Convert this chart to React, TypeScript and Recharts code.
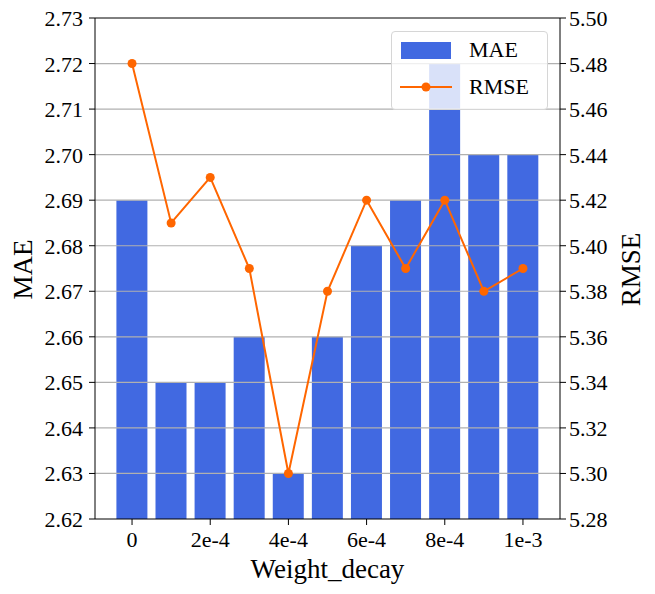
import React from 'react';
import {
  ComposedChart,
  Bar,
  Line,
  XAxis,
  YAxis,
  ReferenceLine,
} from 'recharts';

const decays = ['0', '1e-4', '2e-4', '3e-4', '4e-4', '5e-4', '6e-4', '7e-4', '8e-4', '9e-4', '1e-3'];
const maeValues = [2.69, 2.65, 2.65, 2.66, 2.63, 2.66, 2.68, 2.69, 2.72, 2.7, 2.7];
const rmseValues = [5.48, 5.41, 5.43, 5.39, 5.3, 5.38, 5.42, 5.39, 5.42, 5.38, 5.39];
const maeTicks = [2.62, 2.63, 2.64, 2.65, 2.66, 2.67, 2.68, 2.69, 2.7, 2.71, 2.72, 2.73];
const rmseTicks = [5.28, 5.3, 5.32, 5.34, 5.36, 5.38, 5.4, 5.42, 5.44, 5.46, 5.48, 5.5];

const BLUE = '#4169E1';
const ORANGE = '#FF6600';
const FONT = '"Liberation Serif", "Times New Roman", serif';

const data = decays.map((d, i) => ({ decay: d, MAE: maeValues[i], RMSE: rmseValues[i] }));

// custom ticks so the serif font is used
const XTick = (props: any) => (
  <text x={props.x} y={props.y + 19} textAnchor="middle" fontSize={22} fontFamily={FONT} fill="#000">
    {props.payload.value}
  </text>
);

const LeftTick = (props: any) => (
  <text x={props.x} y={props.y + 8} textAnchor="end" fontSize={22} fontFamily={FONT} fill="#000">
    {Number(props.payload.value).toFixed(2)}
  </text>
);

const RightTick = (props: any) => (
  <text x={props.x} y={props.y + 8} textAnchor="start" fontSize={22} fontFamily={FONT} fill="#000">
    {Number(props.payload.value).toFixed(2)}
  </text>
);

// axis titles drawn from the axis viewBox
const leftTitle = (props: any) => {
  const vb = props.viewBox;
  const x = vb.x + 32;
  const y = vb.y + vb.height / 2 + 1;
  return (
    <text x={x} y={y} transform={`rotate(-90 ${x} ${y})`} textAnchor="middle"
      fontSize={27} fontFamily={FONT} fill="#000">MAE</text>
  );
};

const rightTitle = (props: any) => {
  const vb = props.viewBox;
  const x = vb.x + 80;
  const y = vb.y + vb.height / 2 + 1;
  return (
    <text x={x} y={y} transform={`rotate(-90 ${x} ${y})`} textAnchor="middle"
      fontSize={27} fontFamily={FONT} fill="#000">RMSE</text>
  );
};

const bottomTitle = (props: any) => {
  const vb = props.viewBox;
  return (
    <text x={vb.x + vb.width / 2} y={vb.y + 59} textAnchor="middle"
      fontSize={27} fontFamily={FONT} fill="#000">Weight_decay</text>
  );
};

const LegendBox = () => (
  <div
    style={{
      position: 'absolute',
      left: 391,
      top: 31,
      width: 157,
      height: 79,
      boxSizing: 'border-box',
      background: 'rgba(255,255,255,0.8)',
      border: '1px solid #d6d6d6',
      borderRadius: 4,
      fontFamily: FONT,
      fontSize: 22,
      color: '#000',
    }}
  >
    <div style={{ position: 'absolute', left: 9, top: 10, width: 50, height: 17, background: BLUE }} />
    <span style={{ position: 'absolute', left: 77, top: 5, lineHeight: '26px' }}>MAE</span>
    <svg width={54} height={12} style={{ position: 'absolute', left: 7, top: 49 }}>
      <line x1={1} y1={6} x2={53} y2={6} stroke={ORANGE} strokeWidth={2} />
      <circle cx={27} cy={6} r={4.5} fill={ORANGE} />
    </svg>
    <span style={{ position: 'absolute', left: 77, top: 42, lineHeight: '26px' }}>RMSE</span>
  </div>
);

export default function App() {
  return (
    <div style={{ position: 'absolute', left: 0, top: 0, width: 655, height: 594, fontFamily: FONT }}>
      <ComposedChart
        width={655}
        height={594}
        data={data}
        margin={{ top: 18, right: 0, bottom: 0, left: 0 }}
        barCategoryGap="10%"
      >
        <XAxis
          dataKey="decay"
          interval={1}
          padding={{ left: 17.5, right: 17.5 }}
          stroke="#000"
          tickSize={6}
          tickMargin={3}
          tick={XTick}
          height={75}
          label={bottomTitle}
        />
        <YAxis
          yAxisId="left"
          domain={[2.62, 2.73]}
          ticks={maeTicks}
          width={95}
          stroke="#000"
          tickSize={6}
          tickMargin={6}
          tick={LeftTick}
          allowDataOverflow
          label={leftTitle}
        />
        <YAxis
          yAxisId="right"
          orientation="right"
          domain={[5.28, 5.5]}
          ticks={rmseTicks}
          width={95}
          stroke="#000"
          tickSize={6}
          tickMargin={3}
          tick={RightTick}
          allowDataOverflow
          label={rightTitle}
        />
        <Bar yAxisId="left" dataKey="MAE" fill={BLUE} isAnimationActive={false} />
        {maeTicks.slice(1, -1).map((t) => (
          <ReferenceLine key={t} yAxisId="left" y={t} stroke="#b0b0b0" strokeWidth={1.2} />
        ))}
        <Line
          yAxisId="right"
          dataKey="RMSE"
          stroke={ORANGE}
          strokeWidth={2}
          dot={{ r: 4.5, fill: ORANGE, stroke: ORANGE, strokeWidth: 0 }}
          activeDot={false}
          isAnimationActive={false}
        />
        <ReferenceLine yAxisId="left" y={2.73} stroke="#000" strokeWidth={1} />
      </ComposedChart>
      <LegendBox />
    </div>
  );
}
